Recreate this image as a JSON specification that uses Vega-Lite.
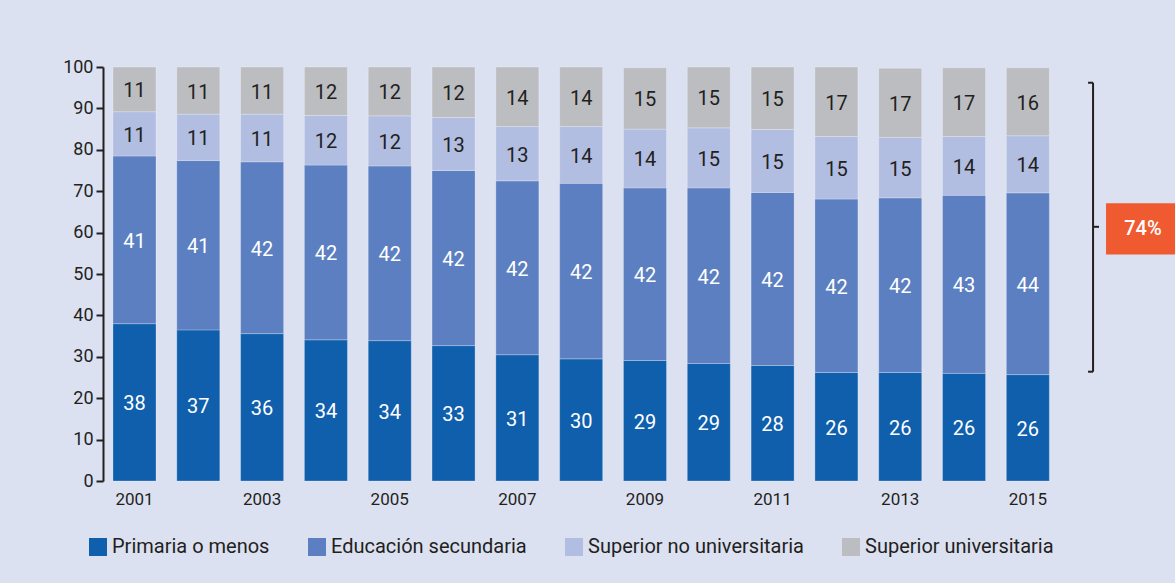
{
  "$schema": "https://vega.github.io/schema/vega-lite/v6.json",
  "autosize": {"type": "none"},
  "width": 1064,
  "height": 414,
  "padding": {"left": 103, "top": 67, "right": 8, "bottom": 102},
  "background": "#dce1f1",
  "config": {
    "view": {"stroke": null},
    "font": "Roboto",
    "axis": {"labelFont": "Roboto", "labelColor": "#231f20", "labelFontSize": 17, "grid": false, "title": null},
    "legend": {"labelFont": "Roboto"}
  },
  "datasets": {
    "shares": [
      {"year": "2001", "cat": "Primaria o menos", "order": 1, "value": 38.0, "label": "38"},
      {"year": "2001", "cat": "Educación secundaria", "order": 2, "value": 40.5, "label": "41"},
      {"year": "2001", "cat": "Superior no universitaria", "order": 3, "value": 10.7, "label": "11"},
      {"year": "2001", "cat": "Superior universitaria", "order": 4, "value": 10.8, "label": "11"},
      {"year": "2002", "cat": "Primaria o menos", "order": 1, "value": 36.5, "label": "37"},
      {"year": "2002", "cat": "Educación secundaria", "order": 2, "value": 40.9, "label": "41"},
      {"year": "2002", "cat": "Superior no universitaria", "order": 3, "value": 11.2, "label": "11"},
      {"year": "2002", "cat": "Superior universitaria", "order": 4, "value": 11.4, "label": "11"},
      {"year": "2003", "cat": "Primaria o menos", "order": 1, "value": 35.6, "label": "36"},
      {"year": "2003", "cat": "Educación secundaria", "order": 2, "value": 41.5, "label": "42"},
      {"year": "2003", "cat": "Superior no universitaria", "order": 3, "value": 11.5, "label": "11"},
      {"year": "2003", "cat": "Superior universitaria", "order": 4, "value": 11.4, "label": "11"},
      {"year": "2004", "cat": "Primaria o menos", "order": 1, "value": 34.1, "label": "34"},
      {"year": "2004", "cat": "Educación secundaria", "order": 2, "value": 42.2, "label": "42"},
      {"year": "2004", "cat": "Superior no universitaria", "order": 3, "value": 12.0, "label": "12"},
      {"year": "2004", "cat": "Superior universitaria", "order": 4, "value": 11.7, "label": "12"},
      {"year": "2005", "cat": "Primaria o menos", "order": 1, "value": 33.9, "label": "34"},
      {"year": "2005", "cat": "Educación secundaria", "order": 2, "value": 42.2, "label": "42"},
      {"year": "2005", "cat": "Superior no universitaria", "order": 3, "value": 12.1, "label": "12"},
      {"year": "2005", "cat": "Superior universitaria", "order": 4, "value": 11.8, "label": "12"},
      {"year": "2006", "cat": "Primaria o menos", "order": 1, "value": 32.7, "label": "33"},
      {"year": "2006", "cat": "Educación secundaria", "order": 2, "value": 42.3, "label": "42"},
      {"year": "2006", "cat": "Superior no universitaria", "order": 3, "value": 12.8, "label": "13"},
      {"year": "2006", "cat": "Superior universitaria", "order": 4, "value": 12.2, "label": "12"},
      {"year": "2007", "cat": "Primaria o menos", "order": 1, "value": 30.5, "label": "31"},
      {"year": "2007", "cat": "Educación secundaria", "order": 2, "value": 42.0, "label": "42"},
      {"year": "2007", "cat": "Superior no universitaria", "order": 3, "value": 13.1, "label": "13"},
      {"year": "2007", "cat": "Superior universitaria", "order": 4, "value": 14.4, "label": "14"},
      {"year": "2008", "cat": "Primaria o menos", "order": 1, "value": 29.5, "label": "30"},
      {"year": "2008", "cat": "Educación secundaria", "order": 2, "value": 42.4, "label": "42"},
      {"year": "2008", "cat": "Superior no universitaria", "order": 3, "value": 13.7, "label": "14"},
      {"year": "2008", "cat": "Superior universitaria", "order": 4, "value": 14.4, "label": "14"},
      {"year": "2009", "cat": "Primaria o menos", "order": 1, "value": 29.1, "label": "29"},
      {"year": "2009", "cat": "Educación secundaria", "order": 2, "value": 41.7, "label": "42"},
      {"year": "2009", "cat": "Superior no universitaria", "order": 3, "value": 14.2, "label": "14"},
      {"year": "2009", "cat": "Superior universitaria", "order": 4, "value": 14.8, "label": "15"},
      {"year": "2010", "cat": "Primaria o menos", "order": 1, "value": 28.4, "label": "29"},
      {"year": "2010", "cat": "Educación secundaria", "order": 2, "value": 42.4, "label": "42"},
      {"year": "2010", "cat": "Superior no universitaria", "order": 3, "value": 14.5, "label": "15"},
      {"year": "2010", "cat": "Superior universitaria", "order": 4, "value": 14.7, "label": "15"},
      {"year": "2011", "cat": "Primaria o menos", "order": 1, "value": 27.9, "label": "28"},
      {"year": "2011", "cat": "Educación secundaria", "order": 2, "value": 41.8, "label": "42"},
      {"year": "2011", "cat": "Superior no universitaria", "order": 3, "value": 15.2, "label": "15"},
      {"year": "2011", "cat": "Superior universitaria", "order": 4, "value": 15.1, "label": "15"},
      {"year": "2012", "cat": "Primaria o menos", "order": 1, "value": 26.2, "label": "26"},
      {"year": "2012", "cat": "Educación secundaria", "order": 2, "value": 41.9, "label": "42"},
      {"year": "2012", "cat": "Superior no universitaria", "order": 3, "value": 15.1, "label": "15"},
      {"year": "2012", "cat": "Superior universitaria", "order": 4, "value": 16.8, "label": "17"},
      {"year": "2013", "cat": "Primaria o menos", "order": 1, "value": 26.2, "label": "26"},
      {"year": "2013", "cat": "Educación secundaria", "order": 2, "value": 42.2, "label": "42"},
      {"year": "2013", "cat": "Superior no universitaria", "order": 3, "value": 14.6, "label": "15"},
      {"year": "2013", "cat": "Superior universitaria", "order": 4, "value": 16.7, "label": "17"},
      {"year": "2014", "cat": "Primaria o menos", "order": 1, "value": 26.0, "label": "26"},
      {"year": "2014", "cat": "Educación secundaria", "order": 2, "value": 43.0, "label": "43"},
      {"year": "2014", "cat": "Superior no universitaria", "order": 3, "value": 14.2, "label": "14"},
      {"year": "2014", "cat": "Superior universitaria", "order": 4, "value": 16.6, "label": "17"},
      {"year": "2015", "cat": "Primaria o menos", "order": 1, "value": 25.7, "label": "26"},
      {"year": "2015", "cat": "Educación secundaria", "order": 2, "value": 43.9, "label": "44"},
      {"year": "2015", "cat": "Superior no universitaria", "order": 3, "value": 13.8, "label": "14"},
      {"year": "2015", "cat": "Superior universitaria", "order": 4, "value": 16.4, "label": "16"}
    ],
    "bracket": [
      {"x": 93.05, "x2": 93.05, "y": 26.4, "y2": 96.2},
      {"x": 92.58, "x2": 93.05, "y": 96.2, "y2": 96.2},
      {"x": 92.58, "x2": 93.05, "y": 26.4, "y2": 26.4},
      {"x": 93.05, "x2": 93.61, "y": 61.4, "y2": 61.4}
    ],
    "callout": [
      {"x": 94.27, "x2": 100.8, "y": 54.7, "y2": 67.1, "tx": 97.74, "ty": 60.9, "text": "74%"}
    ]
  },
  "resolve": {"scale": {"x": "independent"}},
  "layer": [
    {
      "data": {"name": "shares"},
      "transform": [
        {"stack": "value", "groupby": ["year"], "sort": [{"field": "order"}], "as": ["v0", "v1"]},
        {"calculate": "(datum.v0 + datum.v1) / 2", "as": "mid"}
      ],
      "encoding": {
        "x": {
          "field": "year",
          "type": "ordinal",
          "scale": {"paddingInner": 0.326, "paddingOuter": 1, "align": 0.0782},
          "axis": {
            "values": ["2001", "2003", "2005", "2007", "2009", "2011", "2013", "2015"],
            "labelAngle": 0,
            "ticks": false,
            "domain": false,
            "labelPadding": 10,
            "labelFontSize": 17
          }
        }
      },
      "layer": [
        {
          "mark": {"type": "bar", "stroke": "#ffffff", "strokeOpacity": 0.25, "strokeWidth": 1},
          "encoding": {
            "y": {
              "field": "v0",
              "type": "quantitative",
              "scale": {"domain": [0, 100], "nice": false},
              "axis": {
                "values": [0, 10, 20, 30, 40, 50, 60, 70, 80, 90, 100],
                "domainColor": "#231f20",
                "domainWidth": 2,
                "tickColor": "#231f20",
                "tickWidth": 2,
                "tickSize": 7,
                "labelPadding": 3,
                "labelFontSize": 18
              }
            },
            "y2": {"field": "v1"},
            "color": {
              "field": "cat",
              "type": "nominal",
              "scale": {
                "domain": ["Primaria o menos", "Educación secundaria", "Superior no universitaria", "Superior universitaria"],
                "range": ["#0f5fad", "#5b7fc0", "#b1bde1", "#bcbdc0"]
              },
              "legend": {
                "title": null,
                "orient": "none",
                "legendX": -15,
                "legendY": 470,
                "direction": "horizontal",
                "symbolType": "square",
                "symbolSize": 324,
                "symbolStrokeWidth": 0,
                "symbolOpacity": 1,
                "labelFontSize": 20,
                "labelColor": "#231f20",
                "labelOffset": 4,
                "columnPadding": 37,
                "labelLimit": 400
              }
            }
          }
        },
        {
          "mark": {"type": "text", "fontSize": 20, "baseline": "middle", "dy": 2},
          "encoding": {
            "y": {"field": "mid", "type": "quantitative"},
            "text": {"field": "label"},
            "color": {
              "condition": {"test": "datum.order <= 2", "value": "#ffffff"},
              "value": "#231f20"
            }
          }
        }
      ]
    },
    {
      "layer": [
        {
          "data": {"name": "bracket"},
          "mark": {"type": "rule", "color": "#231f20", "strokeWidth": 2, "clip": false},
          "encoding": {
            "x": {"field": "x", "type": "quantitative", "scale": {"domain": [0, 100], "nice": false, "zero": false}, "axis": null},
            "x2": {"field": "x2"},
            "y": {"field": "y", "type": "quantitative"},
            "y2": {"field": "y2"}
          }
        },
        {
          "data": {"name": "callout"},
          "mark": {"type": "rect", "color": "#f05a30", "clip": false},
          "encoding": {
            "x": {"field": "x", "type": "quantitative", "axis": null},
            "x2": {"field": "x2"},
            "y": {"field": "y", "type": "quantitative"},
            "y2": {"field": "y2"}
          }
        },
        {
          "data": {"name": "callout"},
          "mark": {"type": "text", "color": "#ffffff", "fontSize": 20, "fontWeight": 500, "baseline": "middle", "align": "center"},
          "encoding": {
            "x": {"field": "tx", "type": "quantitative", "axis": null},
            "y": {"field": "ty", "type": "quantitative"},
            "text": {"field": "text"}
          }
        }
      ]
    }
  ]
}
